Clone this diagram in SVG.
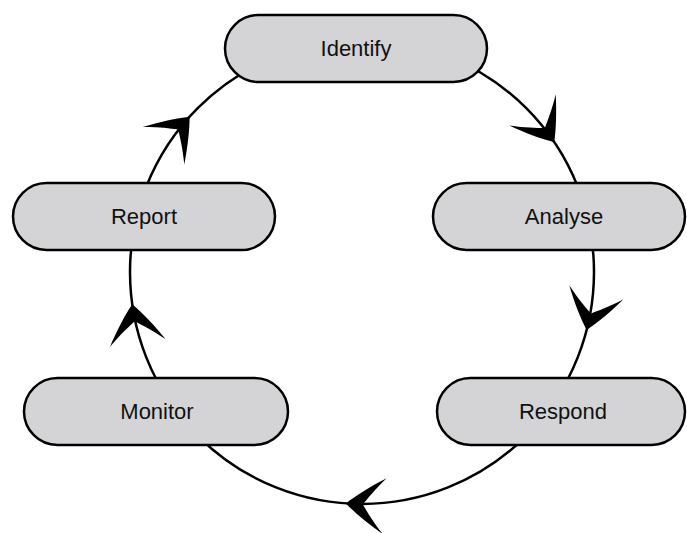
<svg xmlns="http://www.w3.org/2000/svg" width="687" height="533" viewBox="0 0 687 533">
<style>
.box{fill:#d4d4d6;stroke:#000;stroke-width:2.5}
.lbl{font-family:"Liberation Sans",Arial,Helvetica,sans-serif;font-size:22px;fill:#111;text-anchor:middle}
.ring{fill:none;stroke:#000;stroke-width:2.5}
</style>
<defs>
<path id="ah" d="M0,0 C-10,-9 -24,-19 -39,-28 C-28,-16 -22,-7 -17,0 C-22,7 -28,16 -39,28 C-24,19 -10,9 0,0 Z" fill="#000"/>
</defs>
<rect width="687" height="533" fill="#fff"/>
<g id="connectors">
<circle class="ring" cx="362" cy="272" r="232"/>
<use href="#ah" transform="translate(189.6,116.8) rotate(312)"/>
<use href="#ah" transform="translate(554.3,142.3) rotate(56)"/>
<use href="#ah" transform="translate(586.6,330.1) rotate(104.5)"/>
<use href="#ah" transform="translate(345.8,503.4) rotate(184)"/>
<use href="#ah" transform="translate(132.3,304.3) rotate(262)"/>
</g>
<g id="identify"><rect class="box" x="225" y="15" width="262" height="67" rx="33.5"/><text class="lbl" x="356" y="56">Identify</text></g>
<g id="analyse"><rect class="box" x="433" y="183" width="252" height="67" rx="33.5"/><text class="lbl" x="564" y="224">Analyse</text></g>
<g id="respond"><rect class="box" x="437" y="378" width="248" height="67" rx="33.5"/><text class="lbl" x="563" y="419">Respond</text></g>
<g id="monitor"><rect class="box" x="24" y="378" width="264" height="67" rx="33.5"/><text class="lbl" x="157" y="419">Monitor</text></g>
<g id="report"><rect class="box" x="13" y="183" width="262" height="67" rx="33.5"/><text class="lbl" x="144" y="224">Report</text></g>
</svg>
